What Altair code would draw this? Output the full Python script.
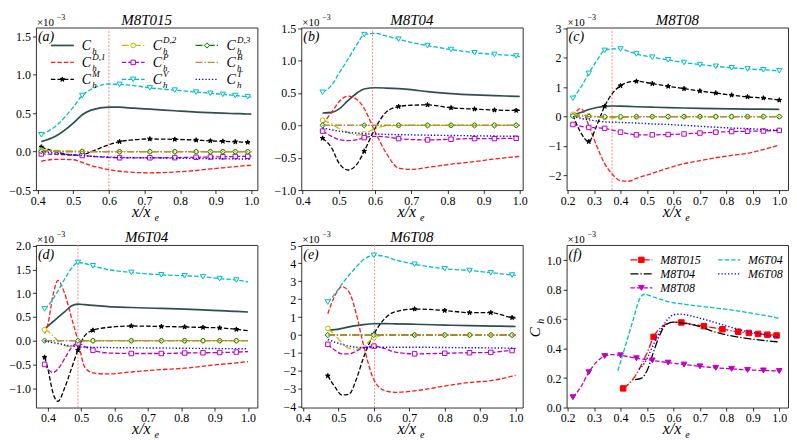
import altair as alt
import pandas as pd

SERIF = "Liberation Serif"
W, H = 222, 163

# ---------------- data (values in units of 1e-3) ----------------
# panel (a) M8T015
XA = [0.41, 0.45, 0.50, 0.525, 0.55, 0.60, 0.63, 0.67, 0.715, 0.785, 0.845, 0.885, 0.92, 0.955, 0.99, 1.0]
MA = [1, 0, 0, 1, 0, 0, 1, 0, 1, 1, 1, 1, 1, 1, 1, 0]
A_CH = [0.13, 0.20, 0.37, 0.48, 0.54, 0.58, 0.578, 0.565, 0.553, 0.532, 0.515, 0.507, 0.500, 0.495, 0.490, 0.488]
A_D1 = [-0.125, -0.100, -0.105, -0.140, -0.180, -0.235, -0.255, -0.270, -0.275, -0.265, -0.245, -0.225, -0.210, -0.195, -0.180, -0.178]
A_M = [0.060, 0.000, -0.045, -0.040, 0.000, 0.090, 0.130, 0.155, 0.165, 0.160, 0.150, 0.140, 0.135, 0.128, 0.122, 0.120]
A_D2 = [0.020, 0.015, 0.010, 0.005, 0.002, 0.0, 0.0, 0.0, 0.0, 0.0, 0.0, 0.0, 0.0, 0.0, 0.0, 0.0]
A_P = [-0.030, -0.035, -0.045, -0.050, -0.060, -0.075, -0.080, -0.082, -0.080, -0.078, -0.073, -0.070, -0.066, -0.063, -0.060, -0.060]
A_V = [0.22, 0.33, 0.58, 0.73, 0.81, 0.88, 0.875, 0.86, 0.83, 0.80, 0.775, 0.76, 0.745, 0.73, 0.715, 0.71]
A_D3 = [0.005, 0.003, 0.0, 0.0, 0.0, 0.0, 0.0, 0.0, 0.0, 0.0, 0.0, 0.0, 0.0, 0.0, 0.0, 0.0]
A_B = [0.0, 0.0, 0.0, 0.0, 0.0, 0.0, 0.0, 0.0, 0.0, 0.0, 0.0, 0.0, 0.0, 0.0, 0.0, 0.0]
A_T = [0.0, -0.02, -0.04, -0.05, -0.06, -0.07, -0.075, -0.078, -0.08, -0.085, -0.088, -0.09, -0.092, -0.095, -0.098, -0.1]

# panel (b) M8T04
XB = [0.455, 0.48, 0.50, 0.525, 0.55, 0.57, 0.60, 0.63, 0.665, 0.70, 0.745, 0.81, 0.875, 0.93, 0.99, 1.0]
MB = [1, 0, 0, 0, 0, 1, 0, 0, 1, 0, 1, 1, 1, 1, 1, 0]
B_CH = [0.19, 0.20, 0.25, 0.38, 0.50, 0.56, 0.58, 0.575, 0.565, 0.55, 0.52, 0.49, 0.47, 0.458, 0.447, 0.445]
B_D1 = [0.02, 0.20, 0.36, 0.45, 0.40, 0.26, -0.10, -0.42, -0.66, -0.68, -0.65, -0.60, -0.56, -0.52, -0.485, -0.48]
B_M = [-0.20, -0.35, -0.58, -0.69, -0.60, -0.40, -0.05, 0.20, 0.29, 0.31, 0.315, 0.27, 0.25, 0.235, 0.23, 0.23]
B_D2 = [0.08, 0.02, -0.05, -0.11, -0.15, -0.13, -0.05, -0.01, 0.0, 0.0, 0.0, 0.0, 0.0, 0.0, 0.0, 0.0]
B_P = [-0.09, -0.17, -0.22, -0.235, -0.22, -0.19, -0.17, -0.18, -0.205, -0.22, -0.225, -0.215, -0.205, -0.205, -0.20, -0.20]
B_V = [0.51, 0.62, 0.80, 1.02, 1.25, 1.40, 1.42, 1.38, 1.33, 1.28, 1.23, 1.17, 1.12, 1.095, 1.07, 1.06]
B_D3 = [0.0, 0.0, 0.0, 0.0, 0.0, 0.0, 0.0, 0.0, 0.0, 0.0, 0.0, 0.0, 0.0, 0.0, 0.0, 0.0]
B_B = [0.0, 0.0, 0.0, 0.0, 0.0, 0.0, 0.0, 0.0, 0.0, 0.0, 0.0, 0.0, 0.0, 0.0, 0.0, 0.0]
B_T = [-0.04, -0.07, -0.09, -0.11, -0.12, -0.13, -0.135, -0.14, -0.145, -0.148, -0.152, -0.157, -0.162, -0.166, -0.17, -0.17]

# panel (c) M8T08
XC = [0.22, 0.25, 0.28, 0.31, 0.34, 0.37, 0.40, 0.43, 0.46, 0.52, 0.58, 0.64, 0.70, 0.76, 0.82, 0.88, 0.94, 1.0]
MC = [1, 0, 1, 0, 1, 0, 1, 0, 1, 1, 1, 1, 1, 1, 1, 1, 1, 1]
C_CH = [0.07, 0.14, 0.24, 0.31, 0.35, 0.36, 0.355, 0.345, 0.335, 0.32, 0.305, 0.292, 0.28, 0.27, 0.263, 0.256, 0.252, 0.248]
C_D1 = [0.0, 0.28, -0.30, -1.0, -1.6, -1.97, -2.18, -2.2, -2.1, -1.93, -1.75, -1.6, -1.5, -1.4, -1.32, -1.25, -1.12, -0.97]
C_M = [0.05, -0.55, -0.85, -0.30, 0.35, 0.80, 1.05, 1.17, 1.20, 1.12, 1.03, 0.95, 0.87, 0.80, 0.73, 0.67, 0.63, 0.56]
C_D2 = [0.08, 0.06, 0.03, 0.0, -0.03, -0.04, -0.03, -0.02, -0.01, 0.0, 0.0, 0.0, 0.0, 0.0, 0.0, 0.0, 0.0, 0.0]
C_P = [-0.27, -0.33, -0.37, -0.38, -0.40, -0.46, -0.53, -0.59, -0.62, -0.62, -0.61, -0.59, -0.56, -0.53, -0.51, -0.50, -0.49, -0.47]
C_V = [0.62, 1.0, 1.47, 1.9, 2.25, 2.3, 2.3, 2.22, 2.13, 2.02, 1.93, 1.84, 1.77, 1.71, 1.66, 1.62, 1.59, 1.56]
C_D3 = [0.02, 0.01, 0.0, 0.0, 0.0, 0.0, 0.0, 0.0, 0.0, 0.0, 0.0, 0.0, 0.0, 0.0, 0.0, 0.0, 0.0, 0.0]
C_B = [0.0, 0.0, 0.0, 0.0, 0.0, 0.0, 0.0, 0.0, 0.0, 0.0, 0.0, 0.0, 0.0, 0.0, 0.0, 0.0, 0.0, 0.0]
C_T = [0.0, -0.06, -0.11, -0.15, -0.18, -0.19, -0.2, -0.21, -0.22, -0.25, -0.27, -0.30, -0.33, -0.36, -0.39, -0.41, -0.44, -0.47]

# panel (d) M6T04
XD = [0.39, 0.40, 0.415, 0.43, 0.45, 0.47, 0.49, 0.51, 0.535, 0.58, 0.65, 0.74, 0.81, 0.865, 0.915, 0.965, 1.0]
MD = [1, 0, 0, 0, 0, 0, 1, 0, 1, 0, 1, 1, 1, 1, 1, 1, 0]
D_CH = [0.25, 0.31, 0.40, 0.49, 0.61, 0.73, 0.77, 0.76, 0.745, 0.72, 0.70, 0.68, 0.665, 0.65, 0.635, 0.62, 0.605]
D_D1 = [0.15, 0.35, 0.95, 1.27, 1.0, 0.5, 0.0, -0.55, -0.68, -0.70, -0.66, -0.61, -0.58, -0.54, -0.50, -0.47, -0.44]
D_M = [-0.35, -0.60, -1.10, -1.28, -1.00, -0.60, -0.20, 0.10, 0.22, 0.28, 0.31, 0.30, 0.29, 0.28, 0.27, 0.24, 0.21]
D_D2 = [0.23, 0.20, 0.10, 0.0, -0.10, -0.13, -0.06, -0.02, 0.0, 0.0, 0.0, 0.0, 0.0, 0.0, 0.0, 0.0, 0.0]
D_P = [-0.50, -0.60, -0.67, -0.60, -0.38, -0.15, -0.05, -0.12, -0.20, -0.26, -0.27, -0.27, -0.26, -0.255, -0.25, -0.24, -0.23]
D_V = [0.67, 0.74, 0.88, 1.05, 1.30, 1.52, 1.65, 1.63, 1.58, 1.50, 1.44, 1.39, 1.37, 1.35, 1.31, 1.28, 1.24]
D_D3 = [0.0, 0.0, 0.0, 0.0, 0.0, 0.0, 0.0, 0.0, 0.0, 0.0, 0.0, 0.0, 0.0, 0.0, 0.0, 0.0, 0.0]
D_B = [0.0, 0.0, 0.0, 0.0, 0.0, 0.0, 0.0, 0.0, 0.0, 0.0, 0.0, 0.0, 0.0, 0.0, 0.0, 0.0, 0.0]
D_T = [0.0, -0.02, -0.04, -0.06, -0.09, -0.11, -0.13, -0.135, -0.14, -0.145, -0.15, -0.155, -0.16, -0.163, -0.166, -0.168, -0.17]

# panel (e) M6T08
XE = [0.47, 0.49, 0.51, 0.53, 0.55, 0.57, 0.60, 0.63, 0.66, 0.715, 0.80, 0.87, 0.93, 0.99, 1.0]
ME = [1, 0, 0, 0, 0, 0, 1, 0, 0, 1, 1, 1, 1, 1, 0]
E_CH = [0.26, 0.30, 0.37, 0.45, 0.52, 0.58, 0.63, 0.635, 0.625, 0.60, 0.555, 0.52, 0.50, 0.478, 0.475]
E_D1 = [1.19, 2.20, 2.70, 2.40, 1.20, -0.50, -2.50, -3.10, -3.20, -3.12, -2.85, -2.65, -2.55, -2.30, -2.25]
E_M = [-2.28, -2.90, -3.35, -3.30, -2.50, -1.30, 0.05, 0.90, 1.30, 1.45, 1.37, 1.25, 1.25, 0.97, 0.95]
E_D2 = [0.37, 0.0, -0.45, -0.75, -0.80, -0.65, -0.15, 0.0, 0.0, 0.0, 0.0, 0.0, 0.0, 0.0, 0.0]
E_P = [-0.52, -0.85, -1.05, -1.05, -0.90, -0.72, -0.62, -0.75, -0.95, -1.05, -1.02, -0.99, -0.97, -0.87, -0.87]
E_V = [1.84, 2.30, 2.85, 3.35, 3.80, 4.20, 4.45, 4.40, 4.20, 3.95, 3.70, 3.60, 3.48, 3.35, 3.33]
E_D3 = [0.0, 0.0, 0.0, 0.0, 0.0, 0.0, 0.0, 0.0, 0.0, 0.0, 0.0, 0.0, 0.0, 0.0, 0.0]
E_B = [0.0, 0.0, 0.0, 0.0, 0.0, 0.0, 0.0, 0.0, 0.0, 0.0, 0.0, 0.0, 0.0, 0.0, 0.0]
E_T = [-0.25, -0.40, -0.52, -0.62, -0.68, -0.70, -0.70, -0.68, -0.68, -0.68, -0.70, -0.71, -0.72, -0.74, -0.75]

# dotted marker lines x/x_e
VLINES = {"a": 0.600, "b": 0.593, "c": 0.368, "d": 0.490, "e": 0.602}

# ---------------- styles ----------------
STAR = ("M0,-1L0.2245,-0.309L0.951,-0.309L0.363,0.118L0.588,0.809L0,0.382"
        "L-0.588,0.809L-0.363,0.118L-0.951,-0.309L-0.2245,-0.309Z")
DASH = [4.5, 2.0]
DASHDOT = [7.0, 2.0, 1.3, 2.0]
DOT = [1.3, 2.0]

STYLE = {
    "CH": dict(color="#2f4f4f", dash=None, width=1.7, marker=None, sup=""),
    "D1": dict(color="#ff1a1a", dash=DASH, width=1.3, marker=None, sup="D,1"),
    "M": dict(color="#000000", dash=DASH, width=1.3, marker=(STAR, "#000000", "#000000", 24), sup="M"),
    "D2": dict(color="#bfbf00", dash=DASHDOT, width=1.3, marker=("circle", "#bfbf00", "white", 22), sup="D,2"),
    "P": dict(color="#bf00bf", dash=DASH, width=1.3, marker=("square", "#bf00bf", "white", 20), sup="P"),
    "V": dict(color="#00bfbf", dash=DASH, width=1.3, marker=("triangle-down", "#00bfbf", "white", 28), sup="V"),
    "D3": dict(color="#008000", dash=DASHDOT, width=1.3, marker=("diamond", "#008000", "#e8ffd8", 28), sup="D,3"),
    "B": dict(color="#cd853f", dash=DASHDOT, width=1.3, marker=None, sup="B"),
    "T": dict(color="#0000ff", dash=DOT, width=1.4, marker=None, sup="T"),
}
ORDER = ["CH", "D1", "M", "D2", "P", "V", "D3", "B", "T"]

FSTYLE = {
    "M8T015": dict(color="#ff0000", dash=DASHDOT, width=1.3, marker=("square", "#ff0000", "#ff0000", 30)),
    "M8T04": dict(color="#000000", dash=[8.0, 2.0, 1.3, 2.0], width=1.3, marker=None),
    "M8T08": dict(color="#bf00bf", dash=DASH, width=1.3, marker=("triangle-down", "#bf00bf", "#bf00bf", 32)),
    "M6T04": dict(color="#00bfbf", dash=DASH, width=1.3, marker=None),
    "M6T08": dict(color="#0000ff", dash=DOT, width=1.4, marker=None),
}

ONE = pd.DataFrame({"k": [0]})


def txt(s, x, y, size, italic=True, align="left", angle=None, baseline="alphabetic"):
    kw = dict(text=s, fontSize=size, font=SERIF, align=align, baseline=baseline,
              color="black", fontStyle="italic" if italic else "normal", fontWeight="normal")
    if angle is not None:
        kw["angle"] = angle
    return alt.Chart(ONE).mark_text(**kw).encode(x=alt.value(x), y=alt.value(y))


def line_kw(st):
    kw = dict(color=st["color"], strokeWidth=st["width"], interpolate="monotone")
    if st["dash"]:
        kw["strokeDash"] = st["dash"]
    return kw


def rule_kw(st):
    kw = dict(color=st["color"], strokeWidth=st["width"])
    if st["dash"]:
        kw["strokeDash"] = st["dash"]
    return kw


def marker_kw(mk):
    shape, stroke, fill, size = mk
    return dict(shape=shape, filled=True, fill=fill, stroke=stroke, strokeWidth=1,
                size=size, opacity=1)


def axes(xdom, ydom, xticks, yticks, yfmt):
    X = alt.X("x:Q", scale=alt.Scale(domain=xdom, nice=False, zero=False),
              axis=alt.Axis(values=xticks, format=".1f", title=None,
                            labelFlush=False, labelOverlap=False))
    Y = alt.Y("y:Q", scale=alt.Scale(domain=ydom, nice=False, zero=False),
              axis=alt.Axis(values=yticks, format=yfmt, title=None,
                            labelFlush=False, labelOverlap=False))
    return X, Y


def decorations(title, tag):
    out = [
        txt("×10", 1, -2, 11, italic=False),
        txt("−3", 21, -8, 8, italic=False),
    ]
    if title:
        out.append(txt(title, W / 2, -3, 15, align="center"))
    out += [
        txt("(" + tag + ")", 2, 14, 14),
        txt("x/x", W / 2 + 4, H + 27, 16, align="right"),
        txt("e", W / 2 + 8, H + 30.5, 10),
    ]
    return out


def component_panel(key, xs, marks, series, xdom, ydom, xticks, yticks, yfmt, title, legend=False):
    rows = []
    for name in ORDER:
        for xv, yv, mv in zip(xs, series[name], marks):
            rows.append({"s": name, "x": xv, "y": yv, "m": mv})
    df = pd.DataFrame(rows)
    X, Y = axes(xdom, ydom, xticks, yticks, yfmt)
    layers = [
        alt.Chart(pd.DataFrame({"x": [VLINES[key]]}))
        .mark_rule(color="#f07878", strokeDash=[2.0, 1.5], strokeWidth=1, opacity=0.85)
        .encode(x=X)
    ]
    base = alt.Chart(df)
    for name in ORDER:
        st = STYLE[name]
        layers.append(base.transform_filter(alt.datum.s == name)
                      .mark_line(**line_kw(st)).encode(x=X, y=Y))
        if st["marker"]:
            layers.append(base.transform_filter((alt.datum.s == name) & (alt.datum.m == 1))
                          .mark_point(**marker_kw(st["marker"])).encode(x=X, y=Y))
    layers += decorations(title, key)
    if legend:
        cols = [15, 86, 160]
        rowsy = [18, 35, 52]
        for idx, name in enumerate(ORDER):
            st = STYLE[name]
            c, r = idx // 3, idx % 3
            x0, yy = cols[c], rowsy[r]
            layers.append(alt.Chart(ONE).mark_rule(**rule_kw(st)).encode(
                x=alt.value(x0), x2=alt.value(x0 + 23), y=alt.value(yy)))
            if st["marker"]:
                layers.append(alt.Chart(ONE).mark_point(**marker_kw(st["marker"])).encode(
                    x=alt.value(x0 + 11.5), y=alt.value(yy)))
            lx = x0 + 31
            layers.append(txt("C", lx, yy + 4.5, 14))
            layers.append(txt("h", lx + 10.5, yy + 8.5, 9))
            if st["sup"]:
                layers.append(txt(st["sup"], lx + 10.5, yy - 2, 9))
    return alt.layer(*layers).properties(width=W, height=H)


pa = component_panel("a", XA, MA, dict(CH=A_CH, D1=A_D1, M=A_M, D2=A_D2, P=A_P, V=A_V, D3=A_D3, B=A_B, T=A_T),
                     [0.395, 1.017], [-0.5, 1.615], [0.4, 0.5, 0.6, 0.7, 0.8, 0.9, 1.0],
                     [-0.5, 0.0, 0.5, 1.0, 1.5], ".1f", "M8T015", legend=True)
pb = component_panel("b", XB, MB, dict(CH=B_CH, D1=B_D1, M=B_M, D2=B_D2, P=B_P, V=B_V, D3=B_D3, B=B_B, T=B_T),
                     [0.396, 1.008], [-1.0, 1.51], [0.4, 0.5, 0.6, 0.7, 0.8, 0.9, 1.0],
                     [-1.0, -0.5, 0.0, 0.5, 1.0, 1.5], ".1f", "M8T04")
pc = component_panel("c", XC, MC, dict(CH=C_CH, D1=C_D1, M=C_M, D2=C_D2, P=C_P, V=C_V, D3=C_D3, B=C_B, T=C_T),
                     [0.196, 1.033], [-2.5, 3.03], [0.2, 0.3, 0.4, 0.5, 0.6, 0.7, 0.8, 0.9, 1.0],
                     [-2, -1, 0, 1, 2, 3], "d", "M8T08")
pd_ = component_panel("d", XD, MD, dict(CH=D_CH, D1=D_D1, M=D_M, D2=D_D2, P=D_P, V=D_V, D3=D_D3, B=D_B, T=D_T),
                      [0.364, 1.028], [-1.41, 2.02], [0.4, 0.5, 0.6, 0.7, 0.8, 0.9, 1.0],
                      [-1.0, -0.5, 0.0, 0.5, 1.0, 1.5, 2.0], ".1f", "M6T04")
pe = component_panel("e", XE, ME, dict(CH=E_CH, D1=E_D1, M=E_M, D2=E_D2, P=E_P, V=E_V, D3=E_D3, B=E_B, T=E_T),
                     [0.395, 1.02], [-4.05, 5.03], [0.4, 0.5, 0.6, 0.7, 0.8, 0.9, 1.0],
                     [-4, -3, -2, -1, 0, 1, 2, 3, 4, 5], "d", "M6T08")

# ---------------- panel (f): C_h of every case ----------------
F_CASES = [("M8T015", XA, A_CH, MA), ("M8T04", XB, B_CH, MB), ("M8T08", XC, C_CH, MC),
           ("M6T04", XD, D_CH, MD), ("M6T08", XE, E_CH, ME)]
frows = []
for name, xs, ys, ms in F_CASES:
    for xv, yv, mv in zip(xs, ys, ms):
        frows.append({"s": name, "x": xv, "y": yv, "m": mv})
fdf = pd.DataFrame(frows)
FX, FY = axes([0.196, 1.033], [0.0, 1.105], [0.2, 0.3, 0.4, 0.5, 0.6, 0.7, 0.8, 0.9, 1.0],
              [0.0, 0.2, 0.4, 0.6, 0.8, 1.0], ".1f")
flayers = []
fbase = alt.Chart(fdf)
for name, _, _, _ in F_CASES:
    st = FSTYLE[name]
    flayers.append(fbase.transform_filter(alt.datum.s == name).mark_line(**line_kw(st)).encode(x=FX, y=FY))
    if st["marker"]:
        flayers.append(fbase.transform_filter((alt.datum.s == name) & (alt.datum.m == 1))
                       .mark_point(**marker_kw(st["marker"])).encode(x=FX, y=FY))
flayers += decorations("", "f")
# legend of (f)
fcols = [64, 152]
frowsy = [15, 29, 43]
for idx, (name, _, _, _) in enumerate(F_CASES):
    st = FSTYLE[name]
    c, r = idx // 3, idx % 3
    x0, yy = fcols[c], frowsy[r]
    flayers.append(alt.Chart(ONE).mark_rule(**rule_kw(st)).encode(
        x=alt.value(x0), x2=alt.value(x0 + 22), y=alt.value(yy)))
    if st["marker"]:
        flayers.append(alt.Chart(ONE).mark_point(**marker_kw(st["marker"])).encode(
            x=alt.value(x0 + 11), y=alt.value(yy)))
    flayers.append(txt(name, x0 + 30, yy + 4.5, 12))
# y title C_h
flayers.append(txt("C", -27, H / 2 + 6, 15, align="center", angle=270))
flayers.append(txt("h", -23, H / 2 - 2.5, 10, align="left", angle=270))
pf = alt.layer(*flayers).properties(width=W, height=H)

chart = (
    alt.concat(pa, pb, pc, pd_, pe, pf, columns=3,
               spacing={"row": 55, "column": 44}, bounds="flush")
    .properties(padding={"left": 0, "top": 3, "right": 0, "bottom": 0})
    .configure_view(stroke="#333333", strokeWidth=1)
    .configure_axis(labelFont=SERIF, labelFontSize=12, labelColor="black",
                    tickColor="black", tickSize=3.5, tickWidth=0.8,
                    domain=False, grid=False, labelPadding=2)
)

chart.save("out.html", embed_options={"renderer": "svg", "actions": False})
